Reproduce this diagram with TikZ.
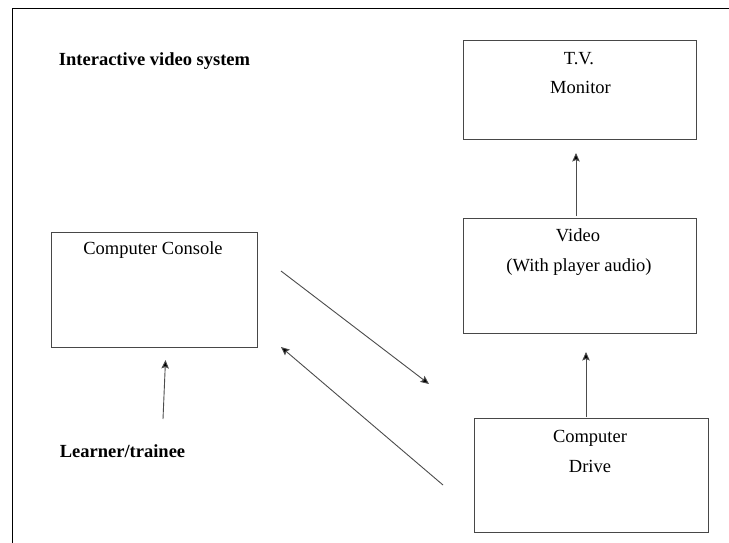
\documentclass[tikz,border=0pt]{standalone}
\usepackage{fontspec}
\setmainfont{Liberation Serif}
\usetikzlibrary{arrows.meta}
\begin{document}
\begin{tikzpicture}[x=1pt,y=-1pt,
  box/.style={draw=black!72, line width=1pt, inner sep=0pt, minimum width=233pt},
  txt/.style={inner sep=0pt, text height=13pt, text depth=0pt, font=\fontsize{18.5}{20}\selectfont},
  btxt/.style={txt, font=\fontsize{18.5}{20}\selectfont\bfseries},
  link/.style={draw=black!70, line width=0.9pt, -{Stealth[length=8.5pt,width=7.5pt,inset=1.5pt,fill=black]}}]
\useasboundingbox (0,0) rectangle (729,543);
\fill[white] (0,0) rectangle (729,543);
% outer frame, open to the right and bottom
\draw[line width=1pt] (12,543) -- (12,9) -- (729,9);

% boxes
\node[box, minimum height=98pt] (tv) at (579.5,90) {};
\node[box, minimum height=115pt] (video) at (579.5,275.5) {};
\node[box, minimum width=234pt, minimum height=114pt] (drive) at (591,475) {};
\node[box, minimum width=206pt, minimum height=115pt] (console) at (154,289.5) {};

% labels
\node[btxt] (title) at (154.5,59) {Interactive video system};
\node[btxt] (learner) at (122.5,451) {Learner/trainee};
\node[txt] (consoleT) at (153,248) {Computer Console};
\node[txt] (tvA) at (579,58.5) {T.V.};
\node[txt] (tvB) at (580.5,87) {Monitor};
\node[txt] (videoA) at (578,235) {Video};
\node[txt] (videoB) at (579,265) {(With player audio)};
\node[txt] (driveA) at (590,435.5) {Computer};
\node[txt] (driveB) at (590,465.5) {Drive};

% connector end points
\coordinate (l0) at (163,419);
\coordinate (l1) at (165.5,360);
\coordinate (tv0) at (576,216);
\coordinate (tv1) at (576,153);
\coordinate (dv0) at (586,417);
\coordinate (dv1) at (586,352);
\coordinate (d10) at (281,271);
\coordinate (d11) at (429,384);
\coordinate (d20) at (443,485);
\coordinate (d21) at (281,347);

\draw[link] (l0) -- (l1);
\draw[link] (tv0) -- (tv1);
\draw[link] (dv0) -- (dv1);
\draw[link] (d10) -- (d11);
\draw[link] (d20) -- (d21);
\end{tikzpicture}
\end{document}
